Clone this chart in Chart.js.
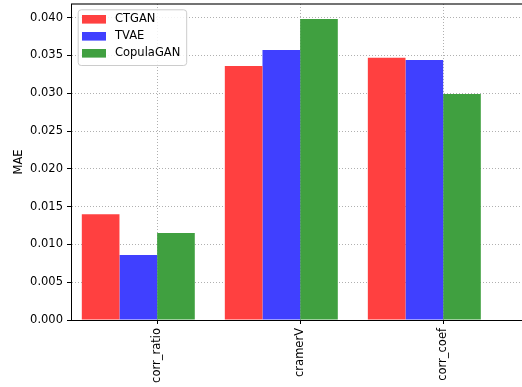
<!DOCTYPE html>
<html>
<head>
<meta charset="utf-8">
<script src="https://cdn.jsdelivr.net/npm/chart.js@4/dist/chart.umd.min.js"></script>
<style>
  html, body { margin: 0; padding: 0; background: #fff; overflow: hidden; }
  canvas { display: block; }
</style>
</head>
<body>
<canvas id="c" width="522" height="387"></canvas>
<script>
// Correlation metrics compared per synthesizer
const categories = ['corr_ratio', 'cramerV', 'corr_coef'];
const ctganMAE = [0.0140, 0.0336, 0.0347];
const tvaeMAE = [0.0086, 0.0357, 0.0344];
const copulaganMAE = [0.0115, 0.0398, 0.0299];
const seriesNames = ['CTGAN', 'TVAE', 'CopulaGAN'];
const yTickValues = [0, 0.005, 0.010, 0.015, 0.020, 0.025, 0.030, 0.035, 0.040];

const FONT = { family: 'DejaVu Sans', size: 11.5 };
const CAT_PCT = 0.79;              // share of a slot taken by a group of bars
const TICK_SHIFT = CAT_PCT / 6;    // tick sits at the left edge of the third bar

const toPoints = vals => vals.map((v, i) => ({ x: i, y: v }));

// Top spine
const framePlugin = {
  id: 'frame',
  afterDraw(chart) {
    const { ctx, chartArea: a } = chart;
    ctx.save();
    ctx.strokeStyle = 'rgba(0,0,0,0.55)';
    ctx.lineWidth = 2;
    ctx.beginPath();
    ctx.moveTo(a.left, a.top);
    ctx.lineTo(a.right, a.top);
    ctx.stroke();
    ctx.restore();
  }
};

// Boxed legend in the upper-left corner of the plot, drawn above the grid
const boxLegend = {
  id: 'boxLegend',
  afterDraw(chart) {
    const { ctx, chartArea: a } = chart;
    const x = a.left + 6.7, y = a.top + 5.3, w = 108.5, h = 55.7, r = 3;
    ctx.save();
    ctx.fillStyle = 'rgba(255,255,255,0.85)';
    ctx.strokeStyle = '#cccccc';
    ctx.lineWidth = 1;
    ctx.beginPath();
    ctx.roundRect(x + 0.5, y + 0.5, w, h, r);
    ctx.fill();
    ctx.stroke();
    ctx.font = `${FONT.size}px ${FONT.family}`;
    ctx.textBaseline = 'middle';
    ctx.textAlign = 'left';
    chart.data.datasets.forEach((ds, i) => {
      const cy = y + 10 + i * 17;
      ctx.fillStyle = ds.backgroundColor;
      ctx.fillRect(x + 4.3, cy - 4.3, 24, 8.6);
      ctx.fillStyle = '#000';
      ctx.fillText(ds.label, x + 37.3, cy);
    });
    ctx.restore();
  }
};

const gridOpts = {
  color: '#b0b0b0',
  lineWidth: 1,
  offset: false,
  tickLength: 4,
  tickColor: '#000',
  tickWidth: 1,
  tickBorderDash: []
};
const borderOpts = { display: true, color: '#000', width: 1, dash: [1, 2] };

new Chart(document.getElementById('c'), {
  type: 'bar',
  data: {
    datasets: [
      { label: seriesNames[0], data: toPoints(ctganMAE), backgroundColor: '#ff4040' },
      { label: seriesNames[1], data: toPoints(tvaeMAE), backgroundColor: '#4040ff' },
      { label: seriesNames[2], data: toPoints(copulaganMAE), backgroundColor: '#40a040' }
    ]
  },
  options: {
    responsive: false,
    animation: false,
    devicePixelRatio: 1,
    layout: { padding: { top: 4, right: 0, bottom: 0, left: 0 } },
    datasets: { bar: { categoryPercentage: CAT_PCT, barPercentage: 1, borderWidth: 0 } },
    plugins: { legend: { display: false }, tooltip: { enabled: false } },
    scales: {
      x: {
        type: 'linear',
        min: -0.4706,
        max: 2.683,
        offset: false,
        z: 1,
        afterBuildTicks: s => { s.ticks = categories.map((_, i) => ({ value: i + TICK_SHIFT })); },
        afterFit: s => { s.height = 67; s.paddingLeft = 0; s.paddingRight = 0; },
        ticks: {
          autoSkip: false,
          minRotation: 90,
          maxRotation: 90,
          padding: 4,
          color: '#000',
          font: FONT,
          callback: (v, i) => categories[i]
        },
        grid: gridOpts,
        border: borderOpts
      },
      y: {
        min: 0,
        max: 0.0418,
        z: 1,
        afterBuildTicks: s => { s.ticks = yTickValues.map(v => ({ value: v })); },
        afterFit: s => { s.width = 71; s.paddingTop = 0; s.paddingBottom = 0; },
        ticks: {
          padding: 4,
          color: '#000',
          font: FONT,
          callback: v => v.toFixed(3)
        },
        grid: gridOpts,
        border: borderOpts,
        title: {
          display: true,
          text: 'MAE',
          color: '#000',
          font: FONT,
          padding: { top: 12, bottom: 0 }
        }
      }
    }
  },
  plugins: [framePlugin, boxLegend]
});
</script>
</body>
</html>
